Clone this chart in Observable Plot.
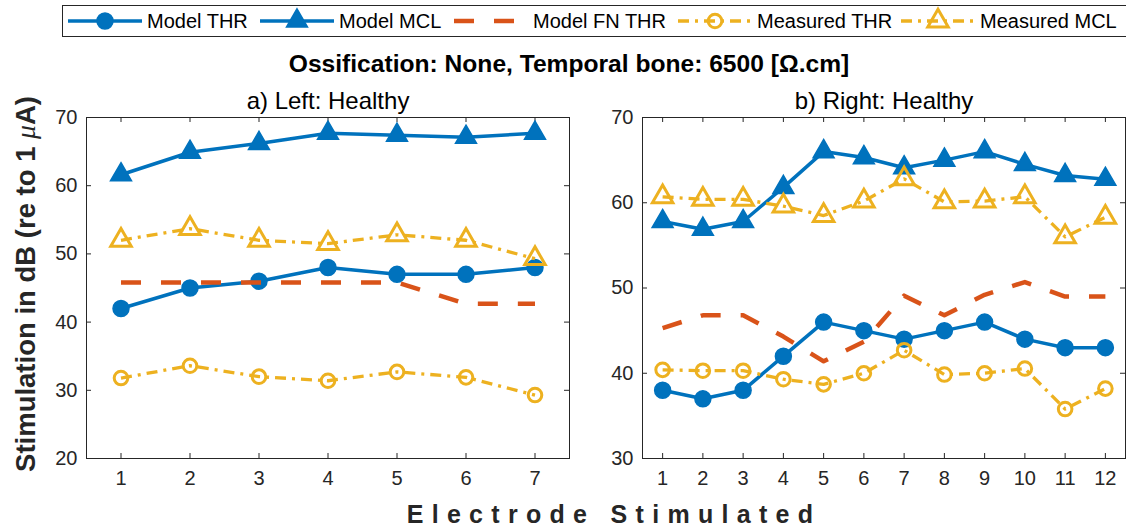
<!DOCTYPE html>
<html><head><meta charset="utf-8">
<script src="https://cdn.jsdelivr.net/npm/d3@7"></script>
<script src="https://cdn.jsdelivr.net/npm/@observablehq/plot@0.6"></script>
<style>
body{margin:0;background:#fff;font-family:"Liberation Sans",Arial,sans-serif;}
#wrap{position:relative;width:1126px;height:529px;overflow:hidden;background:#fff}
.abs{position:absolute;white-space:nowrap;color:#000}
.ctr{transform:translate(-50%,-50%)}
</style></head><body><div id="wrap"></div>
<script>
// ---------- data ----------
const seriesNames = ["Model THR","Model MCL","Model FN THR","Measured THR","Measured MCL"];

const leftElectrodes = [1,2,3,4,5,6,7];
const leftModelTHR    = [42,45,46,48,47,47,48];
const leftModelMCL    = [61.6,64.9,66.2,67.7,67.4,67.1,67.7];
const leftModelFNTHR  = [45.8,45.8,45.8,45.8,45.8,42.7,42.7];
const leftMeasuredTHR = [31.8,33.6,32.0,31.4,32.7,31.9,29.3];
const leftMeasuredMCL = [52.0,53.7,52.0,51.5,52.8,52.0,49.3];

const rightElectrodes = [1,2,3,4,5,6,7,8,9,10,11,12];
const rightModelTHR    = [38,37,38,42,46,45,44,45,46,44,43,43];
const rightModelMCL    = [57.8,56.9,57.8,61.8,66.0,65.3,64.1,65.0,66.0,64.5,63.2,62.75];
const rightModelFNTHR  = [45.3,46.8,46.8,44.3,41.4,43.7,49.1,46.8,49.2,50.7,49.0,49.0];
const rightMeasuredTHR = [40.4,40.3,40.3,39.3,38.7,40.0,42.7,39.85,40.0,40.55,35.8,38.2];
const rightMeasuredMCL = [60.7,60.4,60.4,59.6,58.5,60.2,62.8,60.1,60.2,60.7,56.0,58.3];

const leftYTicks  = [20,30,40,50,60,70];
const rightYTicks = [30,40,50,60,70];

const titleText = "Ossification: None, Temporal bone: 6500 [Ω.cm]";
const leftTitle = "a) Left: Healthy";
const rightTitle = "b) Right: Healthy";
const xLabel = "Electrode Stimulated";

// ---------- styles ----------
const BLUE="#0072BD", ORANGE="#D95319", YELLOW="#EDB120", AX="#262626";
const FONT='"Liberation Sans", Arial, sans-serif';
const styles = {
  "Model THR":    {color:BLUE,   sw:3.5, dash:null,        symbol:"circle",   r:8,   filled:true},
  "Model MCL":    {color:BLUE,   sw:3.5, dash:null,        symbol:"triangle", r:7.8, filled:true},
  "Model FN THR": {color:ORANGE, sw:4.5, dash:"20,20",     symbol:null},
  "Measured THR": {color:YELLOW, sw:3.3, dash:"11,6,3,6",  symbol:"circle",   r:6.8, filled:false},
  "Measured MCL": {color:YELLOW, sw:3.3, dash:"11,6,3,6",  symbol:"triangle", r:7.6, filled:false}
};

function rowsFor(xs, arrays){
  const out = {};
  seriesNames.forEach((name,i)=>{ out[name] = xs.map((x,j)=>({x, y: arrays[i][j]})); });
  return out;
}

function panel(xs, arrays, yDomain, yTicks, width, mL, mR){
  const H = 529, mT = 117, mB = 71;
  const innerH = H - mT - mB, innerW = width - mL - mR;
  const rows = rowsFor(xs, arrays);
  const marks = [
    Plot.frame({stroke:AX, strokeWidth:1}),
    Plot.tickX(xs, {x:d=>d, insetTop: innerH-5, stroke:AX}),
    Plot.tickX(xs, {x:d=>d, insetBottom: innerH-5, stroke:AX}),
    Plot.tickY(yTicks, {y:d=>d, insetRight: innerW-5, stroke:AX}),
    Plot.tickY(yTicks, {y:d=>d, insetLeft: innerW-5, stroke:AX}),
    Plot.axisX({ticks: xs, tickSize:0, tickPadding:12, fontSize:20, label:null, fill:AX, tickFormat:d=>String(d)}),
    Plot.axisY({ticks: yTicks, tickSize:0, tickPadding:9, fontSize:20, label:null, fill:AX, tickFormat:d=>String(d)})
  ];
  for (const name of seriesNames){
    const s = styles[name];
    marks.push(Plot.line(rows[name], {x:"x", y:"y", stroke:s.color, strokeWidth:s.sw,
      strokeDasharray: s.dash || undefined, strokeLinejoin:"round", strokeLinecap:"butt"}));
    if (s.symbol){
      marks.push(Plot.dot(rows[name], {x:"x", y:"y", symbol:s.symbol, r:s.r,
        fill: s.filled ? s.color : "none", stroke:s.color, strokeWidth: s.filled ? 1.5 : 3}));
    }
  }
  return Plot.plot({
    width, height:H, marginLeft:mL, marginRight:mR, marginTop:mT, marginBottom:mB,
    x:{domain:[0.5, xs.length+0.5]},
    y:{domain:yDomain},
    style:{background:"transparent", fontFamily:FONT, overflow:"visible"},
    marks
  });
}

const wrap = document.getElementById("wrap");
function place(el, left, top){ el.style.position="absolute"; el.style.left=left+"px"; el.style.top=top+"px"; wrap.appendChild(el); }

const leftPlot = panel(leftElectrodes,
  [leftModelTHR,leftModelMCL,leftModelFNTHR,leftMeasuredTHR,leftMeasuredMCL],
  [20,70], leftYTicks, 600, 86, 31);
place(leftPlot, 0, 0);
const rightPlot = panel(rightElectrodes,
  [rightModelTHR,rightModelMCL,rightModelFNTHR,rightMeasuredTHR,rightMeasuredMCL],
  [30,70], rightYTicks, 526, 42, 1);
place(rightPlot, 600, 0);

function text(str, x, y, css){
  const d = document.createElement("div");
  d.className = "abs ctr";
  d.textContent = str;
  Object.assign(d.style, css||{});
  d.style.left = x+"px"; d.style.top = y+"px";
  wrap.appendChild(d);
  return d;
}
text(titleText, 569, 64, {fontWeight:"bold", fontSize:"24.6px", color:"#000"});
text(leftTitle, 328, 101, {fontSize:"24px", color:"#000"});
text(rightTitle, 884, 101, {fontSize:"24px", color:"#000"});
text(xLabel, 614, 514, {fontWeight:"bold", fontSize:"25px", letterSpacing:"8.3px", color:AX});

// y label (rotated)
const yl = document.createElement("div");
yl.className = "abs";
yl.innerHTML = 'Stimulation in dB (re to 1 <span style="font-family:\'Liberation Serif\',serif;font-style:italic;font-weight:normal">μ</span>A)';
Object.assign(yl.style, {left:"26px", top:"284px", fontWeight:"bold", fontSize:"27.5px", color:AX,
  transform:"translate(-50%,-50%) rotate(-90deg)"});
wrap.appendChild(yl);

// ---------- legend ----------
const legend = d3.create("svg").attr("width",1126).attr("height",42)
  .style("position","absolute").style("left","0px").style("top","0px");
legend.append("rect").attr("x",62.5).attr("y",5.5).attr("width",1080).attr("height",31)
  .attr("fill","#fff").attr("stroke",AX).attr("stroke-width",1);
const legendX = [68, 260, 454, 678, 901];
const cy = 21;
seriesNames.forEach((name,i)=>{
  const s = styles[name], x0 = legendX[i], len = 74;
  const g = legend.append("g");
  g.append("line").attr("x1",x0).attr("x2",x0+len).attr("y1",cy).attr("y2",cy)
    .attr("stroke",s.color).attr("stroke-width",s.sw).attr("stroke-dasharray",s.dash);
  if (s.symbol){
    const size = Math.PI*s.r*s.r;
    const sym = s.symbol==="circle" ? d3.symbolCircle : d3.symbolTriangle;
    g.append("path").attr("d", d3.symbol(sym, size)()).attr("transform",`translate(${x0+len/2},${cy})`)
      .attr("fill", s.filled ? s.color : "none").attr("stroke",s.color).attr("stroke-width", s.filled?1.5:3);
  }
  g.append("text").attr("x",x0+len+5).attr("y",cy).attr("dy","0.35em")
    .attr("font-family",FONT).attr("font-size",20).attr("fill","#000").text(name);
});
wrap.appendChild(legend.node());
</script></body></html>
